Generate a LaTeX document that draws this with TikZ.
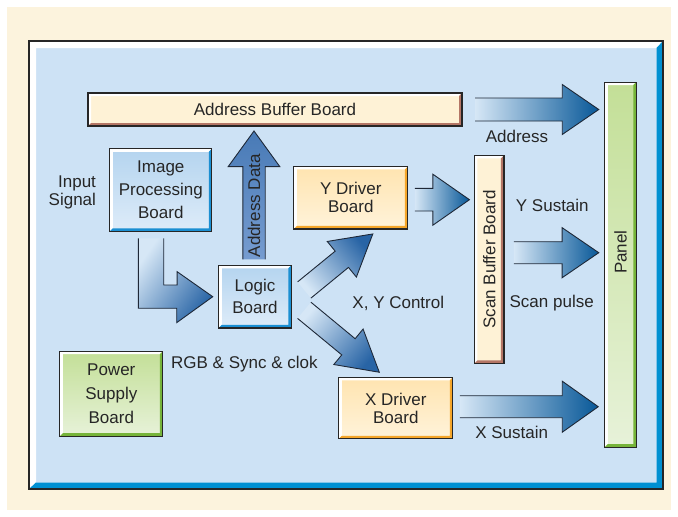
\documentclass[tikz,border=0pt]{standalone}
\usepackage{fontspec}
\setmainfont{Liberation Sans}
\usepackage{graphicx}
\usetikzlibrary{calc}

\definecolor{creme}{RGB}{252,243,221}
\definecolor{hellblau}{RGB}{205,226,245}
\definecolor{rahmenblau}{RGB}{0,144,210}
\definecolor{blauO}{RGB}{180,212,239}
\definecolor{blauU}{RGB}{222,236,249}
\definecolor{blauK}{RGB}{27,143,210}
\definecolor{orangeO}{RGB}{255,228,176}
\definecolor{orangeU}{RGB}{255,243,218}
\definecolor{orangeK}{RGB}{245,166,42}
\definecolor{cremeB}{RGB}{254,242,214}
\definecolor{braunK}{RGB}{180,118,102}
\definecolor{gruenO}{RGB}{195,223,151}
\definecolor{gruenU}{RGB}{231,242,217}
\definecolor{gruenK}{RGB}{118,180,58}
\definecolor{pfeilhell}{RGB}{214,231,246}
\definecolor{pfeildunkel}{RGB}{8,88,152}
\definecolor{diagdunkel}{RGB}{40,100,165}
\definecolor{adrO}{RGB}{72,122,182}
\definecolor{adrU}{RGB}{118,156,208}
\definecolor{randfarbe}{RGB}{30,40,55}

\begin{document}
\begin{tikzpicture}[x=1pt, y=-1pt,
	every node/.style={font=\fontsize{17}{22}\selectfont, text=black!85},
	platine/.style n args={3}{draw=black!85, line width=1.2pt, inner sep=0pt, outer sep=0pt, align=center, top color=#1, bottom color=#2,
		path picture={
			\fill[white] (path picture bounding box.north west) -- (path picture bounding box.north east) -- ($(path picture bounding box.north east)+(-3,3)$) -- ($(path picture bounding box.north west)+(3,3)$) -- ($(path picture bounding box.south west)+(3,-3)$) -- (path picture bounding box.south west) -- cycle;
			\fill[#3] (path picture bounding box.south west) -- (path picture bounding box.south east) -- (path picture bounding box.north east) -- ($(path picture bounding box.north east)+(-3,3)$) -- ($(path picture bounding box.south east)+(-3,-3)$) -- ($(path picture bounding box.south west)+(3,-3)$) -- cycle;
		}},
	pfeilrand/.style={draw=randfarbe, line width=0.9pt, line join=miter},
	pfeilH/.style={left color=pfeilhell, right color=pfeildunkel},
	adrpfeil/.style={top color=adrO, bottom color=adrU},
	diagO/.style={top color=diagdunkel, bottom color=pfeilhell, shading angle=-50},
	diagU/.style={top color=diagdunkel, bottom color=pfeilhell, shading angle=-130},
	knick/.style={top color=diagdunkel, bottom color=pfeilhell, shading angle=-125}]
	\def\pfeil#1#2#3#4#5#6{%
		\coordinate (hb) at ($(#3)!#6!(#2)$);
		\coordinate (p1) at ($(#2)!#4!90:(#3)$);
		\coordinate (p2) at ($(hb)!#4!90:(#3)$);
		\coordinate (p3) at ($(hb)!#5!90:(#3)$);
		\coordinate (p4) at ($(hb)!#5!-90:(#3)$);
		\coordinate (p5) at ($(hb)!#4!-90:(#3)$);
		\coordinate (p6) at ($(#2)!#4!-90:(#3)$);
		\shade[#1] (p1) -- (p2) -- (p3) -- (#3) -- (p4) -- (p5) -- (p6) -- cycle;
		\draw[pfeilrand] (p1) -- (p2) -- (p3) -- (#3) -- (p4) -- (p5) -- (p6);
	}
	\useasboundingbox (0,0) rectangle (678,517);
	
	%Rahmen
	\fill[creme] (7,7) rectangle (671,510);
	\fill[hellblau] (29,41) rectangle (663,489);
	\fill[white] (29,41) -- (663,41) -- (656.5,48) -- (36,48) -- (36,482.5) -- (29,489) -- cycle;
	\fill[rahmenblau] (663,41) -- (663,489) -- (29,489) -- (36,482.5) -- (656.5,482.5) -- (656.5,48) -- cycle;
	\draw[black!85, line width=1.2pt] (29,41) rectangle (663,489);
	
	%Platinen
	\node[platine={cremeB}{cremeB}{braunK}, minimum width=374pt, minimum height=33pt] (adr) at (275,109.5) {Address Buffer Board};
	\node[platine={gruenO}{gruenU}{gruenK}, minimum width=31.5pt, minimum height=365pt] (panel) at (620.5,264.7) {\rotatebox{90}{\hspace{25pt}Panel}};
	\node[platine={blauO}{blauU}{blauK}, minimum width=102pt, minimum height=82.5pt, font=\fontsize{17}{23}\selectfont] (img) at (160.8,190) {Image\\Processing\\Board};
	\node[platine={orangeO}{orangeU}{orangeK}, minimum width=114pt, minimum height=62.5pt, font=\fontsize{17}{18}\selectfont] (ydrv) at (350.8,197.7) {Y Driver\\Board};
	\node[platine={cremeB}{cremeB}{braunK}, minimum width=29.5pt, minimum height=208pt] (scan) at (489.2,259.4) {\rotatebox{90}{Scan Buffer Board}};
	\node[platine={blauO}{blauU}{blauK}, minimum width=72.5pt, minimum height=62.5pt] (logic) at (255,296.7) {Logic\\Board};
	\node[platine={gruenO}{gruenU}{gruenK}, minimum width=103pt, minimum height=85pt, font=\fontsize{17}{24}\selectfont] (power) at (111.3,393.7) {Power\\Supply\\Board};
	\node[platine={orangeO}{orangeU}{orangeK}, minimum width=114pt, minimum height=61.5pt, font=\fontsize{17}{18}\selectfont] (xdrv) at (395.8,408) {X Driver\\Board};
	
	%Pfeile
	\coordinate (a1) at ($(adr.east)+(13,0)$);
	\coordinate (a2) at ($(panel.west |- adr.east)+(-6,0)$);
	\pfeil{pfeilH}{a1}{a2}{11.5pt}{25pt}{36.5pt}
	\coordinate (b1) at ($(ydrv.east)+(7,2)$);
	\coordinate (b2) at ($(scan.west |- b1)+(-5,0)$);
	\pfeil{pfeilH}{b1}{b2}{11.3pt}{25.5pt}{36.6pt}
	\coordinate (c1) at ($(scan.east)+(10,-6.7)$);
	\coordinate (c2) at ($(panel.west |- c1)+(-6,0)$);
	\pfeil{pfeilH}{c1}{c2}{11pt}{25pt}{36.6pt}
	\coordinate (d1) at ($(xdrv.east)+(7,-1.3)$);
	\coordinate (d2) at ($(panel.west |- d1)+(-6.5,0)$);
	\pfeil{pfeilH}{d1}{d2}{11pt}{25.5pt}{36pt}
	\coordinate (e1) at ($(logic.north)+(-1,-6)$);
	\coordinate (e2) at ($(e1 |- adr.south)+(0,5)$);
	\pfeil{adrpfeil}{e1}{e2}{11.2pt}{25.8pt}{35.6pt}
	\coordinate (f1) at ($(logic.east)+(13,-6.7)$);
	\coordinate (f2) at ($(ydrv.south)+(22,5)$);
	\pfeil{diagO}{f1}{f2}{10.5pt}{23pt}{40pt}
	\coordinate (g1) at ($(logic.east)+(13,13.6)$);
	\coordinate (g2) at ($(xdrv.north)+(-16.5,-5)$);
	\pfeil{diagU}{g1}{g2}{10.5pt}{23pt}{40pt}
	
	%Knickpfeil
	\coordinate (l1) at ($(img.south)+(-22.5,7)$);
	\coordinate (l2) at ($(logic.west)+(-6,0)$);
	\shade[knick] (l1) -- ++(0,70) -- ++(38.4,0) -- ++(0,14.4) -- (l2) -- ++(-35.6,-25) -- ++(0,13.3) -- ++(-13.4,0) -- ++(0,-46.7) -- cycle;
	\draw[pfeilrand] (l1) -- ++(0,70) -- ++(38.4,0) -- ++(0,14.4) -- (l2) -- ++(-35.6,-25) -- ++(0,13.3) -- ++(-13.4,0) -- ++(0,-46.7);
	
	%Beschriftung
	\node[anchor=east, align=right, font=\fontsize{17}{18}\selectfont] (insig) at (99.5,192) {Input\\Signal};
	\node[rotate=90] (adrdat) at (254,205.8) {Address Data};
	\node (adrtxt) at (517,136.7) {Address};
	\node (ysus) at (552.3,205.7) {Y Sustain};
	\node (scanp) at (551.7,302.7) {Scan pulse};
	\node (xsus) at (511.7,432.7) {X Sustain};
	\node (xyctrl) at (398.3,303.3) {X, Y Control};
	\node (rgb) at (244.4,364) {RGB \& Sync \& clok};
\end{tikzpicture}
\end{document}
